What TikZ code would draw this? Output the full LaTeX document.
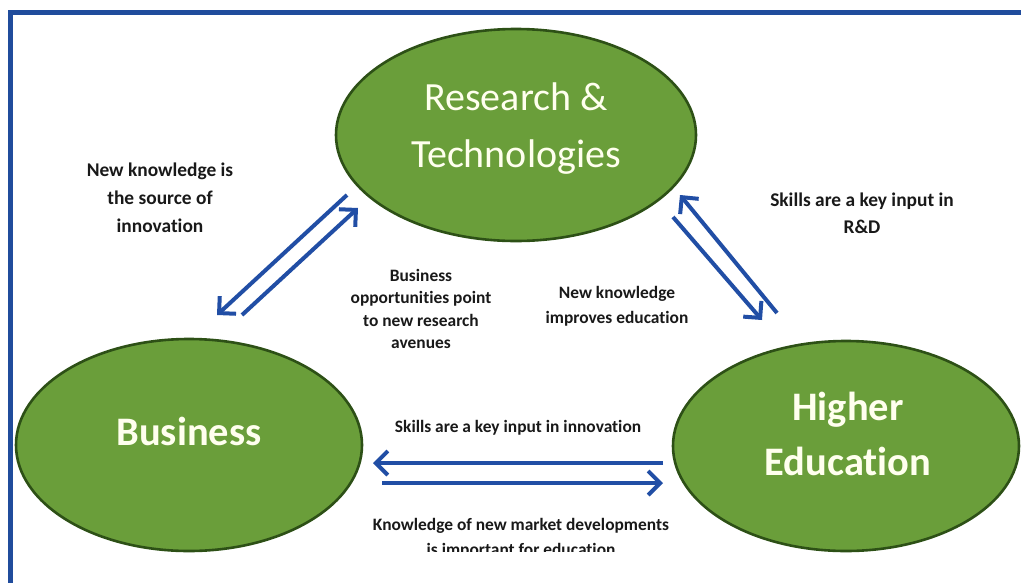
\documentclass[tikz,border=0pt]{standalone}
\usepackage{fontspec}
\setmainfont{Carlito}[Ligatures={NoCommon}]
\usetikzlibrary{arrows.meta,shapes.geometric}
\definecolor{egreen}{RGB}{106,158,58}
\definecolor{eedge}{RGB}{45,80,22}
\definecolor{ablue}{RGB}{33,78,165}
\definecolor{fblue}{RGB}{32,76,156}
\definecolor{etext}{RGB}{255,255,238}
\definecolor{ltext}{RGB}{25,25,25}
\begin{document}
\begin{tikzpicture}[x=1pt,y=-1pt,
  blob/.style={ellipse, draw=eedge, line width=2.6pt, fill=egreen, inner sep=0pt},
  etxt/.style={anchor=base, text=etext, inner sep=0pt, font=\fontsize{40}{46}\selectfont},
  etxtb/.style={etxt, font=\fontsize{40.5}{46}\selectfont\bfseries},
  lbl/.style={anchor=base, text=ltext, inner sep=0pt, font=\fontsize{17.4}{20}\selectfont\bfseries},
  lblbig/.style={lbl, font=\fontsize{19.4}{22}\selectfont\bfseries},
  flow/.style={draw=ablue, line width=4pt, -{Straight Barb[length=12pt,width=24pt,line width=4pt]}}]
\useasboundingbox (0,0) rectangle (1021,582);
\clip (0,0) rectangle (1021,582);
\fill[white] (0,0) rectangle (1021,582);
% frame
\draw[fblue, line width=5pt] (1040,12.5) -- (10.5,12.5) -- (10.5,600);
% ellipses
\node[blob, minimum width=360pt, minimum height=212pt] (rt) at (516,135) {};
\node[blob, minimum width=346pt, minimum height=212pt] (bu) at (189,445) {};
\node[blob, minimum width=346pt, minimum height=210pt] (he) at (846,446) {};
% ellipse texts
\node[etxt] (rt1) at (516,110) {Research \&};
\node[etxt] (rt2) at (516,167) {Technologies};
\node[etxtb] (bu1) at (189,445) {Business};
\node[etxtb] (he1) at (848,420) {Higher};
\node[etxtb] (he2) at (848,475) {Education};
% labels
\node[lblbig] (l1a) at (160,176) {New knowledge is};
\node[lblbig] (l1b) at (160,204) {the source of};
\node[lblbig] (l1c) at (160,232) {innovation};
\node[lblbig] (l2a) at (862,206) {Skills are a key input in};
\node[lblbig] (l2b) at (862,233) {R\&D};
\node[lbl] (l3a) at (421,281) {Business};
\node[lbl] (l3b) at (421,303) {opportunities point};
\node[lbl] (l3c) at (421,326) {to new research};
\node[lbl] (l3d) at (421,348) {avenues};
\node[lbl] (l4a) at (617,298) {New knowledge};
\node[lbl] (l4b) at (617,323) {improves education};
\node[lbl] (l5) at (518,432) {Skills are a key input in innovation};
\node[lbl] (l6a) at (521,530) {Knowledge of new market developments};
\node[lbl] (l6b) at (521,555) {is important for education};
\fill[white] (360,552) rectangle (680,582);
% connector end points
\coordinate (a1s) at (347,195); \coordinate (a1e) at (217,315);
\coordinate (a2s) at (242,315); \coordinate (a2e) at (358,208);
\coordinate (a3s) at (777,313); \coordinate (a3e) at (680,195);
\coordinate (a4s) at (673,217); \coordinate (a4e) at (762,320);
\coordinate (a5s) at (663,463); \coordinate (a5e) at (373,463);
\coordinate (a6s) at (382,483); \coordinate (a6e) at (663,483);
\draw[flow] (a1s) -- (a1e);
\draw[flow] (a2s) -- (a2e);
\draw[flow] (a3s) -- (a3e);
\draw[flow] (a4s) -- (a4e);
\draw[flow] (a5s) -- (a5e);
\draw[flow] (a6s) -- (a6e);
\end{tikzpicture}
\end{document}
